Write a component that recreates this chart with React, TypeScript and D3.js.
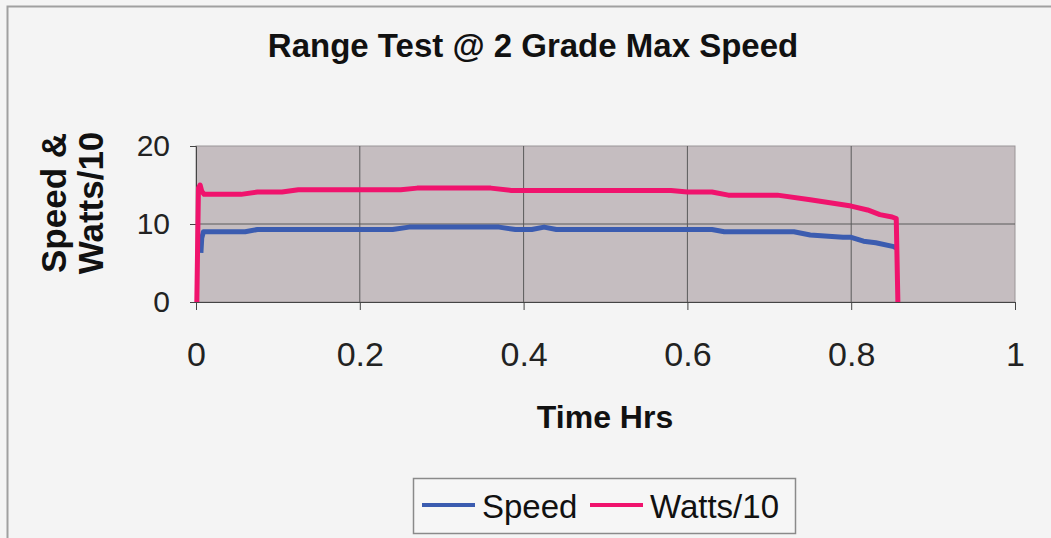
import * as d3 from 'd3';
import { useEffect, useRef } from 'react';

// Speed series (time in hours, speed)
const speedTime = [0.006, 0.007, 0.009, 0.02, 0.06, 0.075, 0.2, 0.24, 0.26, 0.37, 0.39, 0.41, 0.425, 0.44, 0.5, 0.63, 0.645, 0.73, 0.75, 0.79, 0.8, 0.815, 0.83, 0.852, 0.856];
const speedValues = [6.3, 8.2, 9.0, 9.0, 9.0, 9.3, 9.3, 9.3, 9.6, 9.6, 9.3, 9.3, 9.6, 9.3, 9.3, 9.3, 9.0, 9.0, 8.6, 8.3, 8.3, 7.8, 7.6, 7.1, 6.9];

// Watts/10 series
const wattsTime = [0.001, 0.003, 0.005, 0.007, 0.01, 0.055, 0.075, 0.105, 0.125, 0.25, 0.27, 0.36, 0.385, 0.58, 0.6, 0.63, 0.65, 0.71, 0.75, 0.8, 0.82, 0.835, 0.85, 0.855, 0.857];
const wattsValues = [0, 14.6, 15.0, 14.2, 13.8, 13.8, 14.1, 14.1, 14.4, 14.4, 14.6, 14.6, 14.3, 14.3, 14.1, 14.1, 13.7, 13.7, 13.1, 12.3, 11.8, 11.2, 10.9, 10.7, 0];

const xTicks = [0, 0.2, 0.4, 0.6, 0.8, 1];
const yTicks = [0, 10, 20];

const FONT = 'Liberation Sans, Arial, sans-serif';

function App() {
    const chartRef = useRef<SVGSVGElement>(null);

    const W = 1051;
    const H = 538;
    const margin = { top: 146, left: 196 };
    const width = 819;
    const height = 156;

    useEffect(() => {
        const root = d3.select(chartRef.current);
        root.selectAll('*').remove();

        // background + outer frame
        root.append('rect').attr('width', W).attr('height', H).attr('fill', '#f4f4f4');
        root.append('rect')
        .attr('x', 7.5).attr('y', 6.5)
        .attr('width', W + 20).attr('height', H + 20)
        .attr('fill', 'none').attr('stroke', '#a0a0a0').attr('stroke-width', 2);

        // title
        root.append('text')
        .attr('x', 533).attr('y', 57)
        .attr('text-anchor', 'middle')
        .attr('font-family', FONT).attr('font-weight', 'bold').attr('font-size', 33)
        .attr('fill', '#111')
        .text('Range Test @ 2 Grade Max Speed');

        const svg = root.append('g')
        .attr('transform', `translate(${margin.left},${margin.top})`);

        const x = d3.scaleLinear().domain([0, 1]).range([0, width]);
        const y = d3.scaleLinear().domain([0, 20]).range([height, 0]);

        // plot area
        svg.append('rect')
        .attr('width', width).attr('height', height)
        .attr('fill', '#c5bdc0').attr('stroke', '#9a9597');

        // grid
        svg.selectAll('.vgrid')
        .data(xTicks.slice(1, -1))
        .enter()
        .append('line')
        .attr('x1', d => x(d)).attr('x2', d => x(d))
        .attr('y1', 0).attr('y2', height)
        .attr('stroke', '#5a5a5a').attr('stroke-width', 1);

        svg.selectAll('.hgrid')
        .data([10])
        .enter()
        .append('line')
        .attr('x1', 0).attr('x2', width)
        .attr('y1', d => y(d)).attr('y2', d => y(d))
        .attr('stroke', '#5a5a5a').attr('stroke-width', 1);

        // axes
        const xAxis = svg.append('g')
        .attr('transform', `translate(0,${height})`)
        .call(d3.axisBottom(x).tickValues(xTicks).tickSize(8).tickFormat(d => (d === 0 || d === 1) ? String(d) : d3.format('.1f')(d as number)));
        xAxis.selectAll('path, line').attr('stroke', '#444');
        xAxis.selectAll('text')
        .attr('y', 64).attr('dy', 0)
        .attr('font-family', FONT).attr('font-size', 34).attr('fill', '#222');

        const yAxis = svg.append('g')
        .call(d3.axisLeft(y).tickValues(yTicks).tickSize(6).tickPadding(20));
        yAxis.selectAll('path, line').attr('stroke', '#444');
        yAxis.selectAll('text')
        .attr('font-family', FONT).attr('font-size', 30).attr('fill', '#222');

        // lines
        const line = d3.line<[number, number]>()
        .x(d => x(d[0]))
        .y(d => y(d[1]));

        svg.append('path')
        .datum(speedTime.map((t, i) => [t, speedValues[i]] as [number, number]))
        .attr('d', line)
        .attr('fill', 'none').attr('stroke', '#3b5cb0').attr('stroke-width', 5)
        .attr('stroke-linejoin', 'round');

        svg.append('path')
        .datum(wattsTime.map((t, i) => [t, wattsValues[i]] as [number, number]))
        .attr('d', line)
        .attr('fill', 'none').attr('stroke', '#f0136d').attr('stroke-width', 5)
        .attr('stroke-linejoin', 'round');

        // axis titles
        root.append('text')
        .attr('x', 605).attr('y', 428)
        .attr('text-anchor', 'middle')
        .attr('font-family', FONT).attr('font-weight', 'bold').attr('font-size', 32)
        .attr('fill', '#111')
        .text('Time Hrs');

        const yTitle = root.append('text')
        .attr('transform', 'translate(0,203) rotate(-90)')
        .attr('text-anchor', 'middle')
        .attr('font-family', FONT).attr('font-weight', 'bold').attr('font-size', 35)
        .attr('fill', '#111');
        yTitle.append('tspan').attr('x', 0).attr('y', 66).text('Speed &');
        yTitle.append('tspan').attr('x', 0).attr('y', 103).text('Watts/10');

        // legend
        const legend = root.append('g');
        legend.append('rect')
        .attr('x', 413.5).attr('y', 478.5).attr('width', 382).attr('height', 55)
        .attr('fill', '#f6f6f6').attr('stroke', '#8a8a8a').attr('stroke-width', 1.5);

        const items = [
            { name: 'Speed', color: '#3b5cb0', x0: 422 },
            { name: 'Watts/10', color: '#f0136d', x0: 590 }
        ];
        items.forEach(it => {
            legend.append('line')
            .attr('x1', it.x0).attr('x2', it.x0 + 53)
            .attr('y1', 505).attr('y2', 505)
            .attr('stroke', it.color).attr('stroke-width', 4);
            legend.append('text')
            .attr('x', it.x0 + 60).attr('y', 518)
            .attr('font-family', FONT).attr('font-size', 33).attr('fill', '#111')
            .text(it.name);
        });
    }, []);

    return (
        <svg ref={chartRef} width={W} height={H} style={{ position: 'absolute', left: 0, top: 0 }}>
        </svg>
    );
}

export default App;
